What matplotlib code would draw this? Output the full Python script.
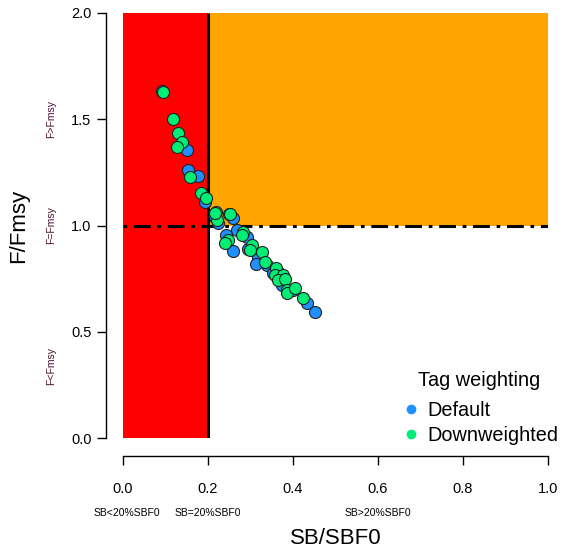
import matplotlib
matplotlib.use("Agg")
import matplotlib.pyplot as plt
from matplotlib.lines import Line2D

plt.rcParams['font.family'] = ['Liberation Sans', 'DejaVu Sans']

# Data
default_x = [0.150, 0.154, 0.177, 0.193, 0.216, 0.224, 0.259, 0.2675, 0.242, 0.2596,
             0.2925, 0.295, 0.318, 0.313, 0.338, 0.365, 0.354, 0.373, 0.401, 0.432, 0.452, 0.091]
default_y = [1.355, 1.261, 1.233, 1.112, 1.041, 1.013, 1.035, 0.979, 0.955, 0.878,
             0.947, 0.888, 0.846, 0.819, 0.814, 0.783, 0.775, 0.720, 0.696, 0.634, 0.591, 1.634]
down_x = [0.0949, 0.118, 0.130, 0.138, 0.126, 0.158, 0.1835, 0.195, 0.219, 0.222,
          0.250, 0.252, 0.248, 0.240, 0.283, 0.279, 0.303, 0.299, 0.326, 0.334,
          0.360, 0.358, 0.377, 0.365, 0.381, 0.385, 0.387, 0.405, 0.424, 0.216]
down_y = [1.626, 1.501, 1.437, 1.395, 1.371, 1.230, 1.151, 1.128, 1.065, 1.026,
          1.054, 1.054, 0.932, 0.916, 0.971, 0.955, 0.908, 0.885, 0.877, 0.830,
          0.799, 0.767, 0.767, 0.744, 0.747, 0.696, 0.681, 0.705, 0.657, 1.06]

x_ticks = [0.0, 0.2, 0.4, 0.6, 0.8, 1.0]
y_ticks = [0.0, 0.5, 1.0, 1.5, 2.0]
sb_labels = ["SB<20%SBF0", "SB=20%SBF0", "SB>20%SBF0"]
sb_label_x = [0.01, 0.2, 0.6]
f_labels = ["F>Fmsy", "F=Fmsy", "F<Fmsy"]
f_label_y = [1.5, 1.0, 0.34]
series_names = ["Default", "Downweighted"]
series_colors = ["#1E90FF", "#00EE76"]

W, H = 566, 550
fig = plt.figure(figsize=(W / 100, H / 100), dpi=100)
ax = fig.add_axes([123 / W, (H - 438) / H, 425 / W, 425 / H])
ax.set_xlim(0, 1)
ax.set_ylim(0, 2)

# Zones
ax.fill_between([0, 0.2], 0, 2, color="#FF0000", lw=0, zorder=1)
ax.fill_between([0.2, 1.0], 1, 2, color="#FFA500", lw=0, zorder=1)
ax.plot([0.2, 0.2], [0, 2], color="black", lw=2.2, zorder=2, solid_capstyle="butt")
ax.plot([0, 1], [1, 1], color="black", lw=2.2, zorder=2,
        linestyle=(0, (1.2, 2.2, 5.5, 2.2)))

# Points
ax.scatter(default_x, default_y, s=75, c=series_colors[0], edgecolors="#222222",
           linewidths=0.8, zorder=3)
ax.scatter(down_x, down_y, s=75, c=series_colors[1], edgecolors="#222222",
           linewidths=0.8, zorder=4)

# Axes styling like R base graphics
for s in ["top", "right"]:
    ax.spines[s].set_visible(False)
ax.spines["left"].set_position(("outward", 17 * 0.72))
ax.spines["bottom"].set_position(("outward", 18 * 0.72))
ax.spines["left"].set_linewidth(1.0)
ax.spines["bottom"].set_linewidth(1.0)
ax.set_xticks(x_ticks)
ax.set_yticks(y_ticks)
ax.set_xticklabels([f"{v:.1f}" for v in x_ticks])
ax.set_yticklabels([f"{v:.1f}" for v in y_ticks])
ax.tick_params(axis="both", length=6.5, width=1.0, labelsize=10.5, colors="black")
ax.tick_params(axis="x", pad=12)
ax.tick_params(axis="y", pad=4)

ax.set_xlabel("SB/SBF0", fontsize=16, labelpad=23)
ax.set_ylabel("F/Fmsy", fontsize=16, labelpad=30)

# Zone annotations
for lab, xv in zip(sb_labels, sb_label_x):
    ax.text(xv, (438 - 513) / 212.5, lab, fontsize=7.5, ha="center", va="center",
            clip_on=False)
for lab, yv in zip(f_labels, f_label_y):
    ax.text((51 - 123) / 425, yv, lab, fontsize=7.5, ha="center", va="center",
            rotation=90, color="#4d1030", clip_on=False)

handles = [Line2D([], [], marker="o", color=c, linestyle="none", markersize=6)
           for c in series_colors]
leg = fig.legend(handles, series_names, title="Tag weighting", loc="upper left",
                 bbox_to_anchor=(390 / W, 1 - 361 / H), frameon=False, fontsize=14.3,
                 title_fontsize=14.3, handletextpad=0.3, labelspacing=0.3,
                 handlelength=1.1, borderpad=0)
leg._legend_box.sep = 8

fig.savefig("out.png", dpi=100)
